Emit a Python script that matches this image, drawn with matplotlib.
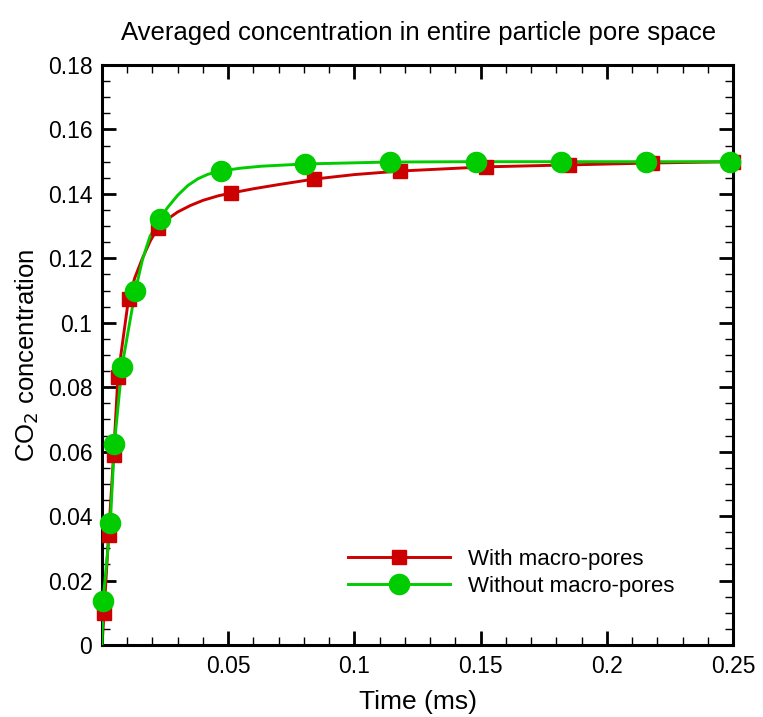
import matplotlib
matplotlib.use('Agg')
import matplotlib.pyplot as plt
from matplotlib.ticker import MultipleLocator, FuncFormatter

plt.rcParams['font.family'] = ['Liberation Sans', 'DejaVu Sans']

# marker samples (time in ms, CO2 concentration)
t_macro = [0.0008, 0.0026, 0.0046, 0.0063, 0.0105, 0.022, 0.0513, 0.084, 0.118, 0.152, 0.185, 0.218, 0.25]
c_macro = [0.0099, 0.0341, 0.0590, 0.0833, 0.1074, 0.1294, 0.1403, 0.1446, 0.1471, 0.1484, 0.1490, 0.1496, 0.1500]
t_nomacro = [0.0004, 0.0033, 0.0049, 0.0079, 0.0132, 0.0229, 0.047, 0.0806, 0.114, 0.148, 0.182, 0.2157, 0.249]
c_nomacro = [0.0137, 0.0379, 0.0624, 0.0864, 0.1100, 0.1322, 0.1471, 0.1493, 0.1499, 0.1500, 0.1500, 0.1500, 0.1500]

# the solid lines carry more samples than the markers
t_macro_line = [0.0, 0.0008, 0.0026, 0.0046, 0.0063, 0.0105, 0.013, 0.016, 0.019, 0.022, 0.026, 0.030,
                0.035, 0.040, 0.046, 0.0513, 0.060, 0.070, 0.084, 0.100, 0.118, 0.152, 0.185, 0.218, 0.25]
c_macro_line = [0.0, 0.0099, 0.0341, 0.0590, 0.0833, 0.1074, 0.1140, 0.1200, 0.1252, 0.1294, 0.1322, 0.1344,
                0.1364, 0.1380, 0.1394, 0.1403, 0.1416, 0.1429, 0.1446, 0.1460, 0.1471, 0.1484, 0.1490, 0.1496, 0.1500]
t_nomacro_line = [0.0, 0.0004, 0.0033, 0.0049, 0.0079, 0.0132, 0.016, 0.019, 0.0229, 0.026, 0.030, 0.034,
                  0.038, 0.042, 0.047, 0.055, 0.0632, 0.0806, 0.114, 0.148, 0.182, 0.2157, 0.25]
c_nomacro_line = [0.0, 0.0137, 0.0379, 0.0624, 0.0864, 0.1100, 0.1195, 0.1268, 0.1322, 0.1358, 0.1396, 0.1426,
                  0.1447, 0.1461, 0.1471, 0.1480, 0.1486, 0.1493, 0.1499, 0.1500, 0.1500, 0.1500, 0.1500]

red = '#cc0000'
green = '#00cc00'

fig = plt.figure(figsize=(7.63, 7.17), dpi=100)
ax = fig.add_axes([0.1337, 0.1004, 0.827, 0.8089])

ax.plot(t_macro_line, c_macro_line, color=red, lw=2.1, zorder=2)
ax.plot(t_nomacro_line, c_nomacro_line, color=green, lw=2.1, zorder=3)
ax.plot(t_macro, c_macro, 's', color=red, ms=10.5, zorder=4, clip_on=False)
ax.plot(t_nomacro, c_nomacro, 'o', color=green, ms=14.5, zorder=5, clip_on=False)

# legend proxies (line + marker)
ax.plot([], [], '-s', color=red, lw=2.1, ms=10.5, label='With macro-pores')
ax.plot([], [], '-o', color=green, lw=2.1, ms=14.5, label='Without macro-pores')

ax.set_xlim(0, 0.25)
ax.set_ylim(0, 0.18)
ax.xaxis.set_major_locator(MultipleLocator(0.05))
ax.xaxis.set_minor_locator(MultipleLocator(0.01))
ax.yaxis.set_major_locator(MultipleLocator(0.02))
ax.yaxis.set_minor_locator(MultipleLocator(0.005))

def fmt(v, pos):
    if abs(v) < 1e-9:
        return '0'
    return ('%.2f' % v).rstrip('0')

def xfmt(v, pos):
    if abs(v) < 1e-9:
        return ''
    return ('%.2f' % v).rstrip('0')

ax.yaxis.set_major_formatter(FuncFormatter(fmt))
ax.xaxis.set_major_formatter(FuncFormatter(xfmt))

ax.tick_params(which='both', direction='in', top=True, right=True, labelsize=16.5, colors='black')
ax.tick_params(which='major', length=10, width=2)
ax.tick_params(which='minor', length=6, width=1)
ax.tick_params(axis='x', pad=7)
ax.tick_params(axis='y', pad=7)
for s in ax.spines.values():
    s.set_linewidth(2.2)

ax.set_xlabel('Time (ms)', fontsize=19, labelpad=9)
ax.set_ylabel('CO$_2$ concentration', fontsize=18.5, labelpad=5)
fig.text(0.5485, 0.954, 'Averaged concentration in entire particle pore space',
         ha='center', va='center', fontsize=18.5)

ax.legend(loc='upper left', bbox_to_anchor=(348 / 763, 1 - 549 / 717), bbox_transform=fig.transFigure,
          frameon=False, fontsize=16, borderpad=0, borderaxespad=0,
          handlelength=4.6, handletextpad=0.8, labelspacing=0.25)

fig.savefig('out.png', dpi=100)
